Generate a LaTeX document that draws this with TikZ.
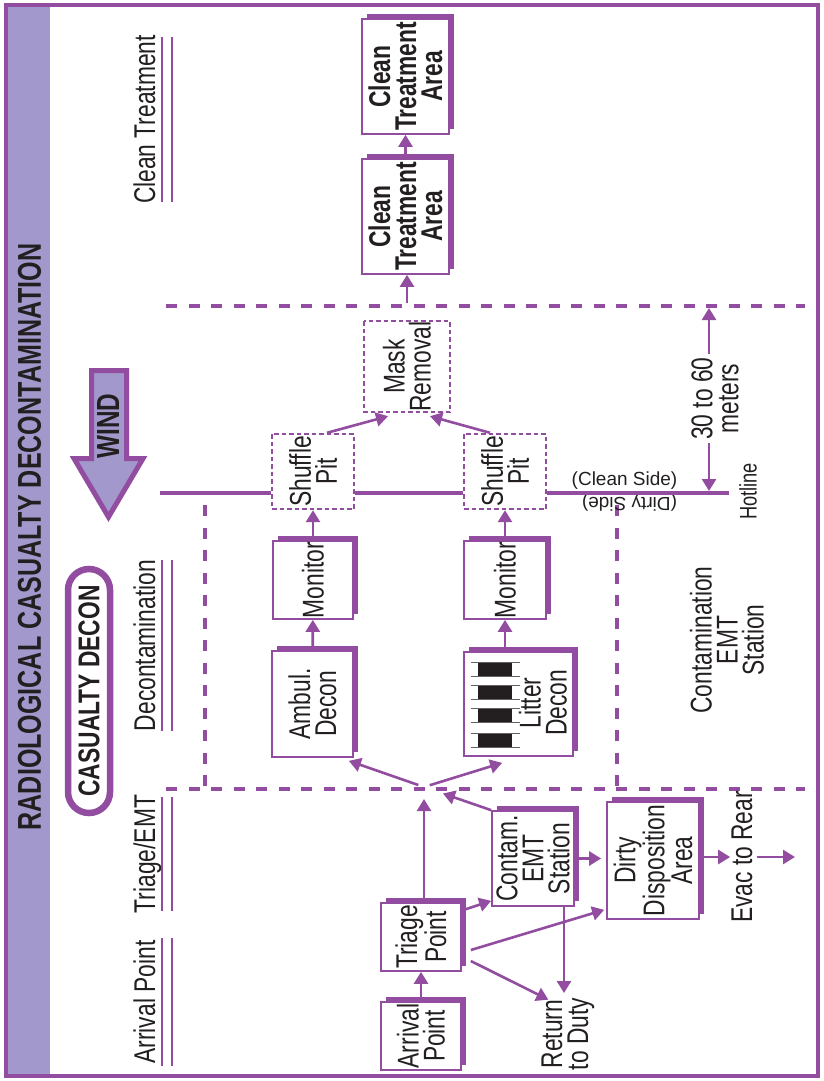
\documentclass[tikz,border=0pt]{standalone}
\usepackage{fontspec}
\setmainfont{Liberation Sans}[FakeStretch=0.76]
\newfontfamily\flatfont{Liberation Sans}
\usetikzlibrary{arrows.meta,shadows}
\definecolor{pl}{RGB}{146,76,160}
\definecolor{lav}{RGB}{162,152,203}
\definecolor{ink}{RGB}{35,31,32}
\newcommand\bxfont{\fontsize{30}{26}\selectfont}
\newcommand\smfont{\fontsize{24}{24}\selectfont}

\begin{document}
\begin{tikzpicture}[x=1pt,y=-1pt,
    txt/.style={rotate=90,inner sep=0pt,align=center,font=\bxfont,text=ink},
    box/.style={txt,draw=pl,line width=1.7pt,fill=white,
        drop shadow={shadow xshift=5pt,shadow yshift=5pt,fill=pl,opacity=1}},
    pitbox/.style={txt,draw=pl,line width=2.4pt,dash pattern=on 4.5pt off 3pt,fill=white},
    pill/.style={txt,draw=pl,line width=6.5pt,rounded corners=21pt,fill=white,
        font=\bxfont\bfseries},
    lane/.style={txt,anchor=base},
    flat/.style={inner sep=0pt,font=\flatfont\fontsize{19}{19}\selectfont,text=ink},
    flow/.style={draw=pl,line width=2.6pt,-{Triangle[length=12pt,width=14pt]}},
    zone/.style={draw=pl,line width=4pt,dash pattern=on 11pt off 11.5pt}]
    \useasboundingbox (0,0) rectangle (823,1081);

    % frame and title
    \fill[lav] (8,7) rectangle (50,1074);
    \draw[pl,line width=4.5pt] (6,5) rectangle (818,1076);
    \node[txt,font=\fontsize{33}{33}\selectfont\bfseries] (title) at (29.5,537) {RADIOLOGICAL CASUALTY DECONTAMINATION};

    % wind
    \filldraw[draw=pl,fill=lav,line width=5pt] (91.5,370.5) -- (126.5,370.5) -- (126.5,458.5) -- (143,458.5)
        -- (108.5,517) -- (74,458.5) -- (91.5,458.5) -- cycle;
    \node[txt,font=\fontsize{32}{32}\selectfont\bfseries] (wind) at (108,426) {WIND};
    \node[pill,minimum width=244,minimum height=42] (cdecon) at (89,691) {CASUALTY DECON};

    % lanes
    \foreach \lbl/\ya/\yb [count=\i] in {Clean Treatment/37/202,Decontamination/560/731,{Triage/EMT}/797/911,Arrival Point/938/1066}
    {
        \node[lane] (lane\i) at (155,{(\ya+\yb)/2}) {\lbl};
        \draw[pl,line width=2.4pt] (162,\ya) -- (162,\yb) (172,\ya) -- (172,\yb);
    }

    % zones
    \draw[zone] (166,306) -- (805,306);
    \draw[zone] (166,789) -- (805,789);
    \draw[zone] (204.5,505) -- (204.5,789);
    \draw[zone] (617,505) -- (617,789);

    % stations
    \node[box,minimum width=115,minimum height=87,font=\bxfont\bfseries] (ct2) at (405.5,76.5) {Clean\\Treatment\\Area};
    \node[box,minimum width=115,minimum height=87,font=\bxfont\bfseries] (ct1) at (405.5,216.5) {Clean\\Treatment\\Area};
    \node[pitbox,minimum width=91,minimum height=86] (mask) at (407,366.5) {Mask\\Removal};
    \node[pitbox,minimum width=75,minimum height=82] (pitA) at (313,471.5) {Shuffle\\Pit};
    \node[pitbox,minimum width=75,minimum height=82] (pitB) at (505,471.5) {Shuffle\\Pit};
    \node[box,minimum width=78,minimum height=80] (monA) at (313,580) {Monitor};
    \node[box,minimum width=78,minimum height=82] (monB) at (505,580) {Monitor};
    \node[box,minimum width=106,minimum height=81] (amb) at (312.5,704) {Ambul.\\Decon};
    \node[box,minimum width=104,minimum height=109] (lit) at (518.5,704) {};
    \foreach \y in {662,685,708,733}
    {
        \fill[ink] (478,\y) rectangle (512,\y+14);
        \draw[ink!70,line width=0.8pt] (471,\y) -- (520,\y) (471,\y+14) -- (520,\y+14);
    }
    \node[txt] (littxt) at (543,703) {Litter\\Decon};
    \node[box,minimum width=68,minimum height=80] (arrival) at (421,1036) {Arrival\\Point};
    \node[box,minimum width=68,minimum height=80] (triage) at (421,937) {Triage\\Point};
    \node[box,minimum width=95,minimum height=82] (emt) at (533,858.5) {Contam.\\EMT\\Station};
    \node[box,minimum width=117,minimum height=92] (dirty) at (653,860.5) {Dirty\\Disposition\\Area};

    % free labels
    \node[txt] (dim) at (715,398.5) {30 to 60\\meters};
    \node[txt] (zonelbl) at (727,640) {Contamination\\EMT\\Station};
    \node[txt,anchor=base] (evac) at (752,857) {Evac to Rear};
    \node[txt] (duty) at (568,1034) {Return\\to Duty};
    \node[txt,font=\smfont] (hotlbl) at (748,491.5) {Hotline};
    \node[flat,anchor=base] (cleanside) at (624.5,485) {(Clean Side)};
    \node[flat,anchor=base,rotate=180] (dirtyside) at (629.5,497) {(Dirty Side)};

    % hotline
    \coordinate (hotW) at (160,493);
    \coordinate (hotE) at (729,493);
    \draw[pl,line width=3.3pt] (hotW) -- (hotW -| pitA.north) (hotW -| pitA.south) -- (hotW -| pitB.north)
        (hotW -| pitB.south) -- (hotE);

    % flows
    \coordinate (split) at (424,787);
    \coordinate (cleangate) at (407,303);
    \coordinate (dtop) at (709,308);
    \coordinate (dbot) at (709,491);
    \coordinate (rear) at (795,857);
    \coordinate (dutytop) at (564,993);
    \draw[flow] (arrival) -- (triage);
    \draw[flow,shorten >=12pt] (triage.east -| split) -- (split);
    \draw[flow,shorten >=20pt] (emt.north east) -- (split);
    \draw[flow,shorten <=6pt] (split) -- ([shift={(-5pt,-3pt)}]amb.south west);
    \draw[flow,shorten <=6pt] (split) -- ([shift={(39pt,-6pt)}]lit.north west);
    \draw[flow] (amb) -- (monA);
    \draw[flow] (monA) -- (pitA);
    \draw[flow] (lit.east -| monB) -- (monB);
    \draw[flow] (monB) -- (pitB);
    \draw[flow] ([xshift=14pt]pitA.east) -- ([shift={(-19pt,-3pt)}]mask.west);
    \draw[flow] ([xshift=-15pt]pitB.east) -- ([shift={(23pt,-3pt)}]mask.west);
    \draw[flow] (cleangate) -- (cleangate |- ct1.west);
    \draw[flow] (ct1) -- (ct2);
    \draw[flow] ([shift={(4pt,-7pt)}]triage.south east) -- ([yshift=6pt]emt.north west);
    \draw[flow] ([shift={(9pt,-13pt)}]triage.south) -- ([shift={(-2pt,10pt)}]dirty.north west);
    \draw[flow] ([shift={(9pt,-24pt)}]triage.south) -- ([shift={(7pt,-2pt)}]duty.north east);
    \draw[flow] (emt.west -| dutytop) -- (dutytop);
    \draw[flow,shorten <=3pt,shorten >=5pt] (emt.south) -- (emt.south -| dirty.north);
    \draw[flow,shorten <=3pt,shorten >=1pt] (dirty.south |- evac.north) -- (evac.north);
    \draw[flow,shorten <=4pt] (evac.south) -- (rear);
    \draw[flow,shorten <=3pt] (dim.east -| dtop) -- (dtop);
    \draw[flow,shorten <=3pt] (dim.west -| dbot) -- (dbot);
\end{tikzpicture}
\end{document}
